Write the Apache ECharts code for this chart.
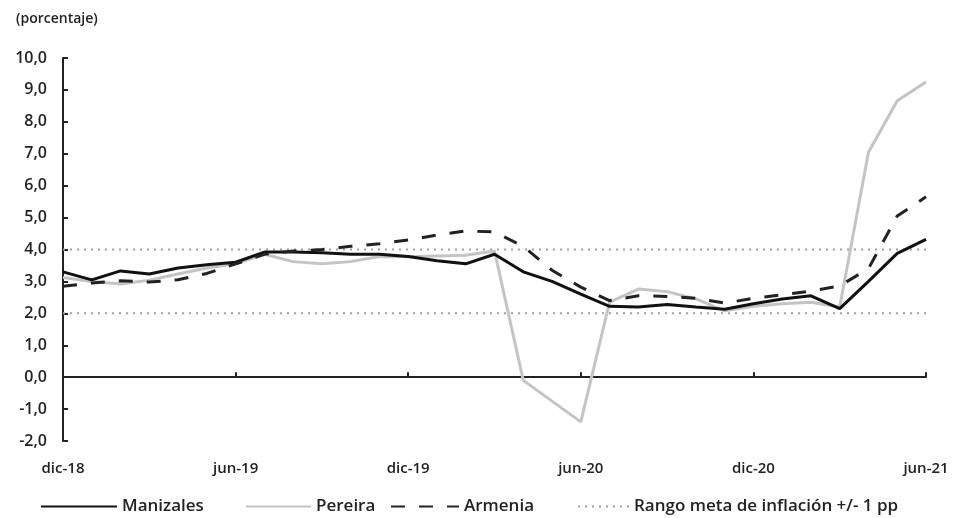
<!DOCTYPE html>
<html>
<head>
<meta charset="utf-8">
<script src="https://cdn.jsdelivr.net/npm/echarts@6/dist/echarts.min.js"></script>
<style>
html,body{margin:0;padding:0;background:#fff;}
#chart{width:958px;height:518px;}
</style>
</head>
<body>
<div id="chart"></div>
<script>
const categories = ['dic-18','ene-19','feb-19','mar-19','abr-19','may-19','jun-19','jul-19','ago-19','sep-19','oct-19','nov-19',
  'dic-19','ene-20','feb-20','mar-20','abr-20','may-20','jun-20','jul-20','ago-20','sep-20','oct-20','nov-20',
  'dic-20','ene-21','feb-21','mar-21','abr-21','may-21','jun-21'];
const manizales = [3.3,3.05,3.33,3.23,3.42,3.52,3.6,3.92,3.92,3.9,3.85,3.85,
  3.78,3.65,3.55,3.85,3.3,3.0,2.6,2.22,2.2,2.28,2.2,2.13,
  2.3,2.45,2.55,2.15,3.0,3.88,4.32];
const pereira = [3.12,3.0,2.92,3.04,3.23,3.42,3.55,3.85,3.62,3.55,3.62,3.78,
  3.77,3.8,3.82,3.95,-0.1,-0.75,-1.4,2.35,2.76,2.68,2.45,2.08,
  2.22,2.3,2.35,2.2,7.05,8.66,9.25];
const armenia = [2.85,2.95,3.02,2.98,3.05,3.25,3.55,3.85,3.95,4.0,4.1,4.18,
  4.3,4.45,4.58,4.55,4.1,3.35,2.82,2.4,2.55,2.53,2.47,2.32,
  2.47,2.58,2.7,2.86,3.4,5.05,5.65];
const targetUpper = 4.0;
const targetLower = 2.0;
const yTicks = {min: -2, max: 10, interval: 1};
const rangeName = 'Rango meta de inflación +/- 1 pp';

const FONT = '"Open Sans", "Noto Sans", sans-serif';
const chart = echarts.init(document.getElementById('chart'));
const upperArr = categories.map(() => targetUpper);
const lowerArr = categories.map(() => targetLower);
const dotStyle = {color: '#a0a0a0', width: 2, type: [2, 5]};
const legText = {fontFamily: FONT, fontSize: 17, fontWeight: 600, color: '#222'};
const legBase = {top: 493, itemHeight: 14, itemStyle: {opacity: 0, borderWidth: 0}, textStyle: legText};

chart.setOption({
  animation: false,
  backgroundColor: '#fff',
  title: {
    text: '(porcentaje)', left: 11, top: 7,
    textStyle: {fontFamily: FONT, fontSize: 14, fontWeight: 600, color: '#222'}
  },
  grid: {left: 63, right: 32, top: 58, bottom: 77, containLabel: false},
  legend: [
    Object.assign({data: ['Manizales'], left: 35, itemWidth: 76}, legBase),
    Object.assign({data: ['Pereira'], left: 240, itemWidth: 65}, legBase),
    Object.assign({data: ['Armenia'], left: 385, itemWidth: 68}, legBase),
    Object.assign({data: [rangeName], left: 572, itemWidth: 51}, legBase)
  ],
  xAxis: [
    {
      type: 'category', data: categories, boundaryGap: false, position: 'bottom',
      axisLine: {show: false, onZero: false}, axisTick: {show: false},
      axisLabel: {interval: 5, margin: 20, fontFamily: FONT, fontSize: 15, fontWeight: 600, color: '#222'},
      splitLine: {show: false}
    },
    {
      type: 'category', data: categories, boundaryGap: false, position: 'bottom',
      axisLine: {show: true, onZero: true, lineStyle: {color: '#222', width: 2}},
      axisTick: {show: true, inside: true, interval: 5, length: 5, lineStyle: {color: '#222', width: 2}},
      axisLabel: {show: false}, splitLine: {show: false}
    }
  ],
  yAxis: {
    type: 'value', min: yTicks.min, max: yTicks.max, interval: yTicks.interval,
    axisLine: {show: true, lineStyle: {color: '#222', width: 2}},
    axisTick: {show: true, inside: true, length: 5, lineStyle: {color: '#222', width: 2}},
    axisLabel: {margin: 16, fontFamily: FONT, fontSize: 16, fontWeight: 600, color: '#222',
      formatter: v => v.toFixed(1).replace('.', ',')},
    splitLine: {show: false}
  },
  series: [
    {name: rangeName, type: 'line', data: upperArr, symbol: 'none', silent: true,
     lineStyle: dotStyle, itemStyle: {color: '#a0a0a0'}, z: 1},
    {name: rangeName, type: 'line', data: lowerArr, symbol: 'none', silent: true,
     lineStyle: dotStyle, itemStyle: {color: '#a0a0a0'}, z: 1},
    {name: 'Pereira', type: 'line', data: pereira, symbol: 'none',
     lineStyle: {color: '#c4c4c4', width: 3}, itemStyle: {color: '#c4c4c4'}, z: 2},
    {name: 'Manizales', type: 'line', data: manizales, symbol: 'none',
     lineStyle: {color: '#111', width: 3}, itemStyle: {color: '#111'}, z: 3},
    {name: 'Armenia', type: 'line', data: armenia, symbol: 'none',
     lineStyle: {color: '#222', width: 3, type: [14, 14]}, itemStyle: {color: '#222'}, z: 4}
  ]
});
</script>
</body>
</html>
